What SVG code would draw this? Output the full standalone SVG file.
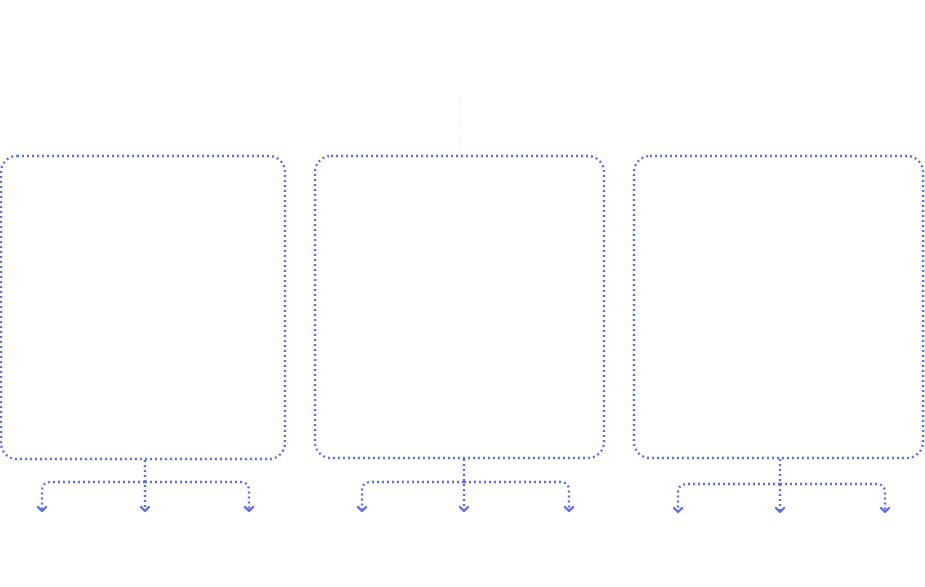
<svg xmlns="http://www.w3.org/2000/svg" width="925" height="587" viewBox="0 0 925 587">
<style>
.box{fill:none;stroke:#5a6cf8;stroke-width:2.4;stroke-dasharray:2 3}
.c{fill:none;stroke:#5a6cf8;stroke-width:2.4;stroke-dasharray:2 3}
.ah{fill:none;stroke:#5a6cf8;stroke-width:2.4;stroke-linecap:round;stroke-linejoin:round}
</style>
<rect width="925" height="587" fill="#ffffff"/>
<g id="node-1"><rect class="box" x="1" y="156" width="284" height="303" rx="16"/></g>
<g id="node-2"><rect class="box" x="315" y="156" width="289" height="302" rx="16"/></g>
<g id="node-3"><rect class="box" x="634" y="156" width="289" height="302" rx="16"/></g>
<g id="connectors">
<line x1="460" y1="96" x2="460" y2="154" stroke="#f8f4dc" stroke-width="1.5" stroke-dasharray="2 3"/>
<path class="c" d="M145 460V509M145 482H51Q42 482 42 491V509M145 482H240Q249 482 249 491V509"/>
<path class="ah" d="M38 507L42 511L46 507M141 507L145 511L149 507M245 507L249 511L253 507"/>
<path class="c" d="M464 459V509M464 482H371Q362 482 362 491V509M464 482H560Q569 482 569 491V509"/>
<path class="ah" d="M358 507L362 511L366 507M460 507L464 511L468 507M565 507L569 511L573 507"/>
<path class="c" d="M780 459V510M780 484H687Q678 484 678 493V510M780 484H876Q885 484 885 493V510"/>
<path class="ah" d="M674 508L678 512L682 508M776 508L780 512L784 508M881 508L885 512L889 508"/>
</g>
</svg>
